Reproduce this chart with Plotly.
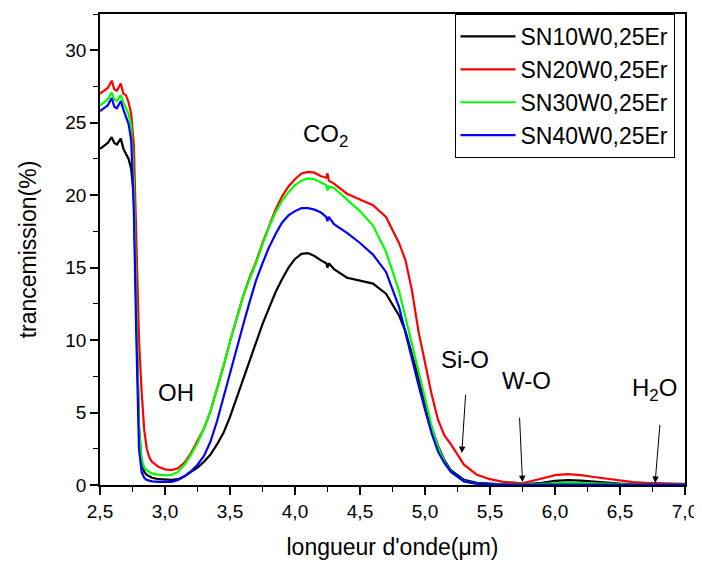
import plotly.graph_objects as go

x_um = [2.50, 2.53, 2.56, 2.59, 2.61, 2.63, 2.66, 2.68, 2.70, 2.72, 2.74, 2.76, 2.78, 2.80,
        2.82, 2.84, 2.86, 2.88, 2.90, 2.95, 3.00, 3.05, 3.10, 3.15, 3.20, 3.25, 3.30, 3.35,
        3.40, 3.45, 3.50, 3.55, 3.60, 3.65, 3.70, 3.75, 3.80, 3.85, 3.90, 3.95, 4.00, 4.05,
        4.10, 4.15, 4.20, 4.24, 4.25, 4.26, 4.30, 4.40, 4.50, 4.60, 4.70, 4.80, 4.85, 4.90,
        4.95, 5.00, 5.05, 5.10, 5.15, 5.20, 5.30, 5.40, 5.50, 5.60, 5.75, 5.90, 6.00, 6.10,
        6.20, 6.30, 6.40, 6.50, 6.60, 6.70, 6.80, 7.00]

sn10 = [23.2, 23.4, 23.6, 24.0, 23.6, 23.5, 23.9, 23.2, 22.9, 22.5, 21.8, 20.0, 12.0, 4.0,
        1.5, 0.9, 0.7, 0.6, 0.5, 0.4, 0.35, 0.35, 0.4, 0.6, 0.9, 1.2, 1.6, 2.1,
        2.8, 3.6, 4.7, 6.0, 7.2, 8.6, 9.9, 11.1, 12.2, 13.3, 14.2, 15.0, 15.6, 15.95,
        16.0, 15.8, 15.5, 15.3, 15.0, 15.3, 14.9, 14.3, 14.1, 13.9, 13.2, 11.7, 10.6, 9.0,
        7.4, 5.6, 4.0, 2.7, 1.7, 1.0, 0.35, 0.15, 0.08, 0.05, 0.05, 0.15, 0.28, 0.33,
        0.30, 0.22, 0.15, 0.10, 0.07, 0.05, 0.04, 0.03]

sn20 = [27.0, 27.2, 27.4, 27.9, 27.3, 27.2, 27.7, 27.0, 26.9, 26.4, 25.6, 23.5, 16.0, 10.0,
        6.5, 3.8, 2.5, 1.9, 1.6, 1.25, 1.08, 1.03, 1.15, 1.55, 2.2, 3.0, 3.9, 5.1,
        6.6, 8.2, 9.9, 11.5, 13.0, 14.3, 15.4, 16.7, 17.9, 19.0, 19.9, 20.6, 21.1, 21.5,
        21.6, 21.55, 21.3, 21.2, 21.5, 21.0, 20.8, 20.1, 19.7, 19.3, 18.5, 16.7, 15.5, 13.4,
        10.6, 8.5, 6.3, 4.5, 3.4, 2.8, 1.4, 0.7, 0.4, 0.22, 0.12, 0.45, 0.68, 0.75,
        0.68, 0.55, 0.42, 0.30, 0.20, 0.15, 0.12, 0.08]

sn30 = [26.2, 26.4, 26.6, 27.1, 26.6, 26.5, 26.9, 26.4, 26.0, 25.6, 24.8, 21.0, 12.0, 4.0,
        1.8, 1.2, 1.0, 0.9, 0.8, 0.72, 0.68, 0.70, 0.9, 1.4, 2.1, 2.9, 3.9, 5.1,
        6.6, 8.2, 9.9, 11.5, 13.0, 14.2, 15.3, 16.6, 17.8, 18.8, 19.6, 20.2, 20.7, 21.0,
        21.15, 21.1, 20.9, 20.7, 20.3, 20.6, 20.5, 19.7, 18.9, 17.9, 16.1, 13.4, 11.6, 9.8,
        8.0, 6.0, 4.1, 2.6, 1.6, 0.9, 0.25, 0.10, 0.05, 0.04, 0.05, 0.08, 0.12, 0.14,
        0.13, 0.10, 0.07, 0.05, 0.04, 0.03, 0.03, 0.02]

sn40 = [25.8, 26.0, 26.2, 26.7, 26.1, 26.0, 26.5, 25.9, 25.4, 24.9, 23.8, 19.0, 10.0, 2.5,
        0.9, 0.5, 0.35, 0.3, 0.25, 0.22, 0.20, 0.22, 0.35, 0.6, 0.95, 1.4, 2.0, 3.0,
        4.4, 6.1, 7.8, 9.5, 11.0, 12.6, 14.1, 15.3, 16.4, 17.3, 18.1, 18.6, 18.9, 19.1,
        19.1, 19.0, 18.8, 18.5, 18.2, 18.5, 18.0, 17.4, 16.7, 15.9, 14.7, 12.3, 10.5, 8.5,
        6.9, 5.2, 3.6, 2.3, 1.5, 0.9, 0.25, 0.08, 0.03, 0.02, 0.02, 0.03, 0.04, 0.05,
        0.04, 0.03, 0.03, 0.02, 0.02, 0.02, 0.02, 0.02]

series_names = ["SN10W0,25Er", "SN20W0,25Er", "SN30W0,25Er", "SN40W0,25Er"]
series_colors = ["#000000", "#ff0000", "#00ff00", "#0000ff"]
series_values = [sn10, sn20, sn30, sn40]

x_ticks = [2.5, 3.0, 3.5, 4.0, 4.5, 5.0, 5.5, 6.0, 6.5, 7.0]
y_ticks = [0, 5, 10, 15, 20, 25, 30]

labels = ["OH", "CO<sub>2</sub>", "Si-O", "W-O", "H<sub>2</sub>O"]
label_x = [3.083, 4.233, 5.306, 5.781, 6.762]
label_y = [6.4, 24.1, 8.67, 7.22, 6.6]

arrow_head_x = [5.283, 5.75, 6.77]
arrow_head_y = [2.2, 0.2, 0.14]
arrow_tail_x = [5.313, 5.727, 6.808]
arrow_tail_y = [6.33, 4.75, 4.26]

fig = go.Figure()
for name, color, vals in zip(series_names, series_colors, series_values):
    fig.add_trace(go.Scatter(x=x_um, y=vals, mode="lines", name=name,
                             line=dict(color=color, width=2.2)))

font_family = "Liberation Sans, Arial, sans-serif"

for t, lx, ly in zip(labels, label_x, label_y):
    fig.add_annotation(x=lx, y=ly, text=t, showarrow=False,
                       font=dict(family=font_family, size=24, color="black"))

for hx, hy, tx, ty in zip(arrow_head_x, arrow_head_y, arrow_tail_x, arrow_tail_y):
    fig.add_annotation(x=hx, y=hy, ax=tx, ay=ty, axref="x", ayref="y", xref="x", yref="y",
                       text="", showarrow=True, arrowhead=2, arrowsize=1.3, arrowwidth=1,
                       arrowcolor="black")

fig.update_layout(
    width=694, height=555,
    margin=dict(l=92, r=15, t=4, b=78),
    paper_bgcolor="white", plot_bgcolor="white",
    separators=", ",
    font=dict(family=font_family, color="black"),
    showlegend=True,
    legend=dict(x=0.606, y=1.0, xanchor="left", yanchor="top",
                bordercolor="black", borderwidth=1, bgcolor="white",
                font=dict(family=font_family, size=23, color="black"),
                itemwidth=55, tracegroupgap=0),
)

fig.update_xaxes(
    range=[2.5, 7.0], tickvals=x_ticks, tickformat=".1f",
    showline=True, linecolor="black", linewidth=1.5, mirror=True,
    ticks="outside", ticklen=8, tickwidth=1.5, tickcolor="black",
    minor=dict(ticks="outside", ticklen=5, tickwidth=1.2, dtick=0.25, tickcolor="black"),
    showgrid=False, zeroline=False,
    tickfont=dict(family=font_family, size=19, color="black"),
    title=dict(text="longueur d'onde(\u03bcm)", font=dict(family=font_family, size=23, color="black"), standoff=18),
)
fig.update_yaxes(
    range=[0, 32.5], tickvals=y_ticks,
    showline=True, linecolor="black", linewidth=1.5, mirror=True,
    ticks="outside", ticklen=8, tickwidth=1.5, tickcolor="black",
    minor=dict(ticks="outside", ticklen=5, tickwidth=1.2, dtick=2.5, tickcolor="black"),
    showgrid=False, zeroline=False,
    tickfont=dict(family=font_family, size=19, color="black"),
    title=dict(text="trancemission(%)", font=dict(family=font_family, size=23, color="black"), standoff=22),
)

fig.write_html("out.html")
